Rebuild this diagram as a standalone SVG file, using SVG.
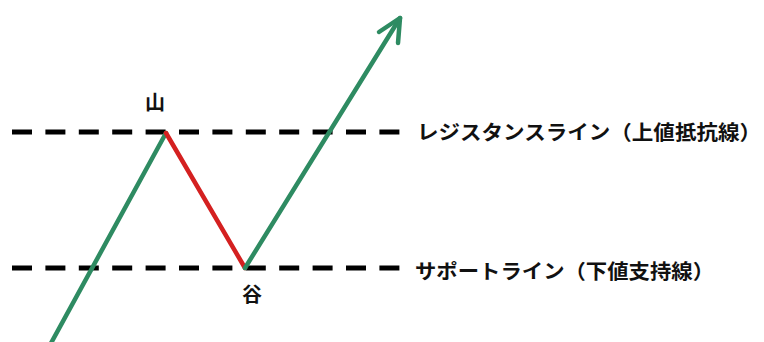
<svg xmlns="http://www.w3.org/2000/svg" width="764" height="342" viewBox="0 0 764 342">
<style>
.dash{stroke:#000;stroke-width:5;stroke-dasharray:20 13.4;fill:none}
.up{stroke:#2e8b62;stroke-width:4.5;fill:none;stroke-linecap:round;stroke-linejoin:round}
.down{stroke:#d42020;stroke-width:4.5;fill:none;stroke-linecap:round}
.lbl{font-family:"Noto Sans CJK JP","Noto Sans",sans-serif;font-weight:bold;fill:#111;font-size:20px}
</style>
<rect width="764" height="342" fill="#fff"/>
<g id="connectors">
<line class="dash" x1="12" y1="132" x2="400" y2="132"/>
<line class="dash" x1="12" y1="268" x2="400" y2="268"/>
<polyline class="up" points="50,345 166,133"/>
<line class="down" x1="166" y1="133" x2="245" y2="268"/>
<polyline class="up" points="245,268 400,18"/>
<polyline class="up" points="379,32 400,18 398,43"/>
</g>
<g id="peak"><text class="lbl" x="155" y="110" text-anchor="middle">山</text></g>
<g id="valley"><text class="lbl" x="252" y="302" text-anchor="middle">谷</text></g>
<g id="resistance"><text class="lbl" x="417" y="140" textLength="344" lengthAdjust="spacingAndGlyphs">レジスタンスライン（上値抵抗線）</text></g>
<g id="support"><text class="lbl" x="415" y="279" textLength="299" lengthAdjust="spacingAndGlyphs">サポートライン（下値支持線）</text></g>
</svg>
